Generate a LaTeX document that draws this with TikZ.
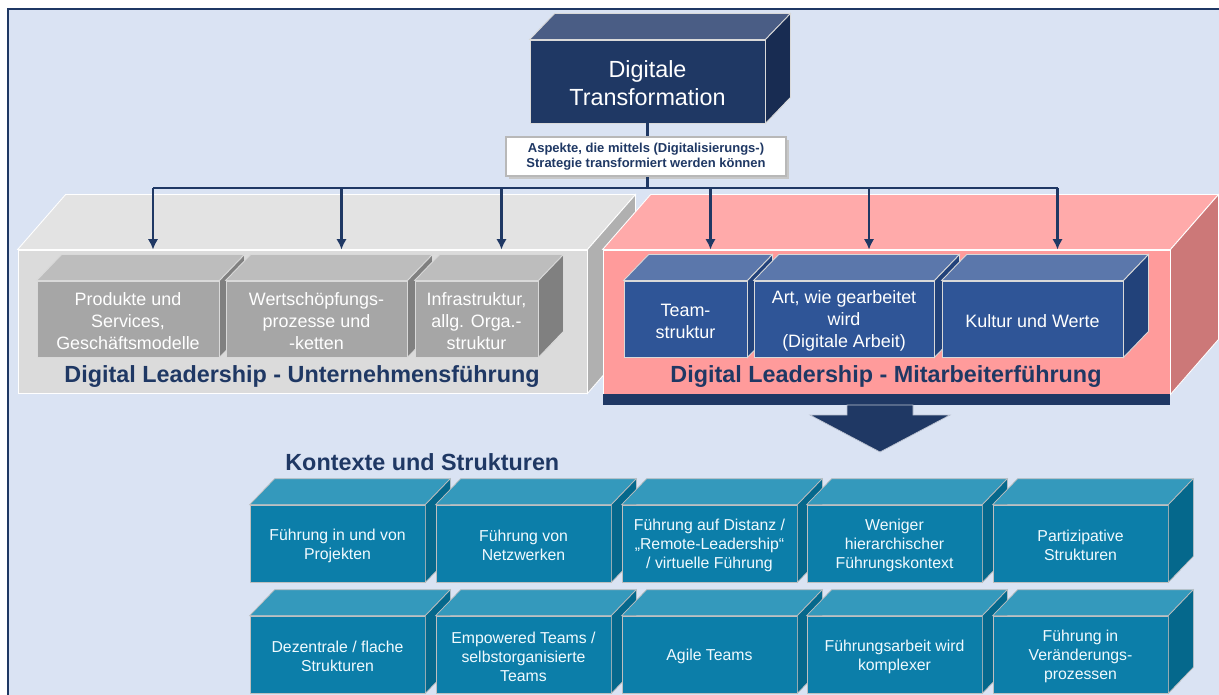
\documentclass[tikz,border=0pt]{standalone}
\usepackage{fontspec}
\setmainfont{Liberation Sans}
\usetikzlibrary{calc}
\usetikzlibrary{fit}
\usetikzlibrary{arrows.meta}
\definecolor{navy}{HTML}{1F3864}
\definecolor{bgblue}{HTML}{DAE3F3}
\definecolor{navyTop}{HTML}{4A5D85}
\definecolor{navySide}{HTML}{182C52}
\definecolor{blueFront}{HTML}{2F5597}
\definecolor{blueTop}{HTML}{5B77AB}
\definecolor{blueSide}{HTML}{22427A}
\definecolor{tealFront}{HTML}{0C7EA9}
\definecolor{tealTop}{HTML}{3499BC}
\definecolor{tealSide}{HTML}{05688C}
\definecolor{pinkFront}{HTML}{FF9B9B}
\definecolor{pinkTop}{HTML}{FFAAAA}
\definecolor{pinkSide}{HTML}{CC7878}
\tikzset{face/.style={inner sep=0pt, draw=white!85!black, line width=0.5pt}}
\tikzset{facetext/.style={inner sep=0pt, align=center, text=white, yshift=-1.2pt}}
\tikzset{navybox/.style={face, fill=navy}}
\tikzset{navybox text/.style={facetext, font=\fontsize{13.3}{15.9}\selectfont}}
\tikzset{navybox top/.style={face, fill=navyTop}}
\tikzset{navybox side/.style={face, fill=navySide}}
\tikzset{graybig/.style={face, draw=white, fill=black!14}}
\tikzset{graybig text/.style={facetext}}
\tikzset{graybig top/.style={face, draw=white, fill=black!11}}
\tikzset{graybig side/.style={face, draw=white, fill=black!31}}
\tikzset{pinkbig/.style={face, draw=white, fill=pinkFront}}
\tikzset{pinkbig text/.style={facetext}}
\tikzset{pinkbig top/.style={face, draw=white, fill=pinkTop}}
\tikzset{pinkbig side/.style={face, draw=white, fill=pinkSide}}
\tikzset{graybox/.style={face, fill=black!35}}
\tikzset{graybox text/.style={facetext, font=\fontsize{10.2}{12.5}\selectfont}}
\tikzset{graybox top/.style={face, fill=black!26}}
\tikzset{graybox side/.style={face, fill=black!50}}
\tikzset{bluebox/.style={face, fill=blueFront}}
\tikzset{bluebox text/.style={facetext, font=\fontsize{10.2}{12.5}\selectfont}}
\tikzset{bluebox top/.style={face, fill=blueTop}}
\tikzset{bluebox side/.style={face, fill=blueSide}}
\tikzset{tealbox/.style={face, draw=black!25, line width=0.4pt, fill=tealFront}}
\tikzset{tealbox text/.style={facetext, text=white!94!cyan, font=\fontsize{9}{10.8}\selectfont}}
\tikzset{tealbox top/.style={face, draw=black!25, line width=0.4pt, fill=tealTop}}
\tikzset{tealbox side/.style={face, draw=black!25, line width=0.4pt, fill=tealSide}}
\tikzset{bus/.style={draw=navy, line width=1.6pt}}
\tikzset{titletext/.style={text=navy, font=\fontsize{13.3}{16}\selectfont\bfseries, inner sep=0pt}}
% name, kind, corner, corner, depth, text
\newcommand{\quader}[6]{%
  \node[#2, fit={#3 #4}] (#1) {};
  \filldraw[#2 top] (#1.north west) -- ++#5 -- ($(#1.north east)+#5$) -- (#1.north east) -- cycle;
  \filldraw[#2 side] (#1.north east) -- ++#5 -- ($(#1.south east)+#5$) -- (#1.south east) -- cycle;
  \node[#2 text] (#1-label) at (#1.center) {#6};
  \coordinate (#1-top) at ($(#1.north)+#5$);
}

\begin{document}
\begin{tikzpicture}[x=0.02cm,y=-0.02cm]
\useasboundingbox (0,0) rectangle (1219,695);
\fill[bgblue] (8,9) rectangle (1219,695);
\draw[navy, line width=1.2pt] (8,695) -- (8,9) -- (1219,9);

% top
\quader{dt}{navybox}{(530,40)}{(765,123)}{(25,-26)}{Digitale\\Transformation}
\fill[black!22] (509,140) rectangle (789,179);
\node[fill=white, draw=black!28, line width=1.2pt, inner sep=0pt, fit={(506,137) (786,176)}] (aspekte) {};
\node[inner sep=0pt, align=center, text=navy, font=\fontsize{7.4}{8.5}\selectfont\bfseries] (aspekte-label)
  at (aspekte.center) {Aspekte, die mittels (Digitalisierungs-)\\Strategie transformiert werden können};
\draw[bus] (dt.south) -- (dt.south |- aspekte.north);
\draw[bus] (dt.south |- aspekte.south) -- ++(0,11) coordinate (hub);

% Unternehmensfuehrung
\quader{unt}{graybig}{(18,250)}{(587,393)}{(48,-55)}{}
\quader{prod}{graybox}{(37,281)}{(219,357)}{(25,-26)}{Produkte und\\Services,\\Geschäftsmodelle}
\quader{wert}{graybox}{(226,281)}{(407,357)}{(25,-26)}{Wertschöpfungs-\\prozesse und\\-ketten}
\quader{infra}{graybox}{(415,281)}{(538,357)}{(25,-26)}{Infrastruktur,\\allg. Orga.-\\struktur}
\node[titletext] (untTitle) at (302,377) {Digital Leadership - Unternehmensführung};

% Mitarbeiterfuehrung
\quader{mit}{pinkbig}{(603,250)}{(1170,394)}{(48,-55)}{}
\quader{team}{bluebox}{(624,281)}{(747,357)}{(25,-26)}{Team-\\struktur}
\quader{art}{bluebox}{(754,281)}{(934,357)}{(25,-26)}{Art, wie gearbeitet\\wird\\(Digitale Arbeit)}
\quader{kultur}{bluebox}{(942,281)}{(1123,357)}{(25,-26)}{Kultur und Werte}
\node[titletext] (mitTitle) at (886,377) {Digital Leadership - Mitarbeiterführung};

% bus
\draw[bus] (hub -| prod-top) -- (hub -| kultur-top);
\foreach \b in {prod,wert,infra}
  \draw[bus,-{Latex[length=6pt,width=6pt]}] (hub -| \b-top) -- (\b-top |- unt.north);
\foreach \b in {team,art,kultur}
  \draw[bus,-{Latex[length=6pt,width=6pt]}] (hub -| \b-top) -- (\b-top |- mit.north);

% big arrow
\fill[navy] (603,394) rectangle (1170,405);
\filldraw[fill=navy, draw=white!70!navy, line width=0.4pt] (847,405) -- (913,405) -- (913,415) -- (950,415)
  -- (880,452) -- (810,415) -- (847,415) -- cycle;

% Kontexte
\node[titletext, anchor=west] (kontexte) at (285,462) {Kontexte und Strukturen};
\quader{projekte}{tealbox}{(250,505)}{(425,582)}{(25,-26)}{Führung in und von\\Projekten}
\quader{netzwerke}{tealbox}{(436,505)}{(611,582)}{(25,-26)}{Führung von\\Netzwerken}
\quader{distanz}{tealbox}{(622,505)}{(797,582)}{(25,-26)}{Führung auf Distanz /\\„Remote-Leadership“\\/ virtuelle Führung}
\quader{hierarchie}{tealbox}{(807,505)}{(982,582)}{(25,-26)}{Weniger\\hierarchischer\\Führungskontext}
\quader{partizipativ}{tealbox}{(993,505)}{(1168,582)}{(25,-26)}{Partizipative\\Strukturen}
\quader{dezentral}{tealbox}{(250,616)}{(425,693)}{(25,-26)}{Dezentrale / flache\\Strukturen}
\quader{empowered}{tealbox}{(436,616)}{(611,693)}{(25,-26)}{Empowered Teams /\\selbstorganisierte\\Teams}
\quader{agile}{tealbox}{(622,616)}{(797,693)}{(25,-26)}{Agile Teams}
\quader{komplex}{tealbox}{(807,616)}{(982,693)}{(25,-26)}{Führungsarbeit wird\\komplexer}
\quader{wandel}{tealbox}{(993,616)}{(1168,693)}{(25,-26)}{Führung in\\Veränderungs-\\prozessen}
\end{tikzpicture}
\end{document}
